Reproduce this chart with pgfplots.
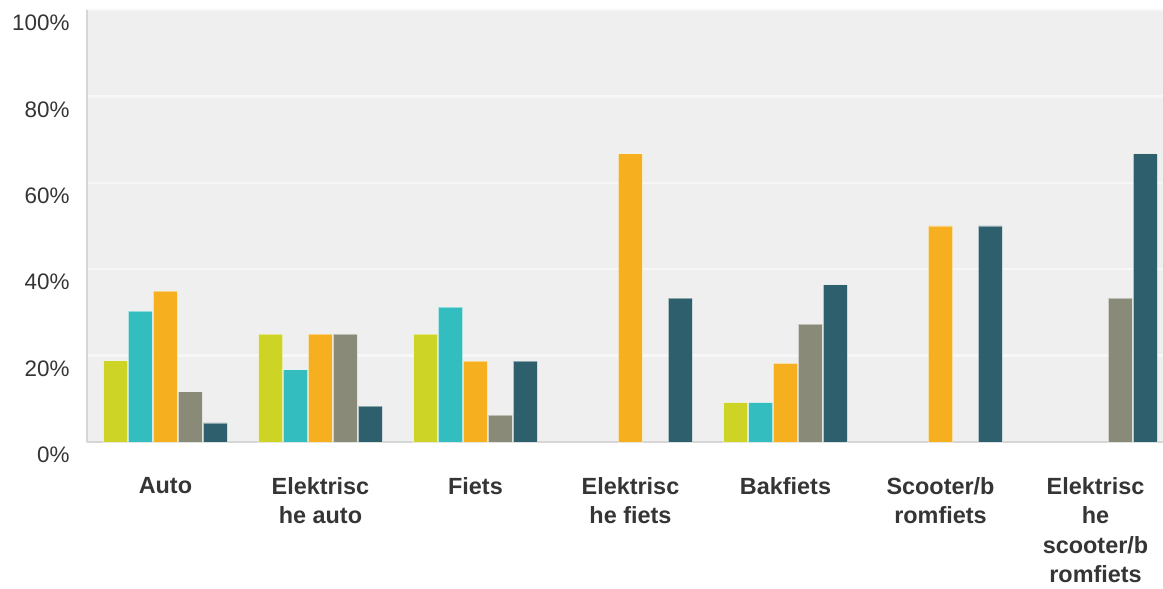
\documentclass[border=0pt]{standalone}
\usepackage{pgfplots}
\pgfplotsset{compat=1.18}
\usepackage{fontspec}
\setmainfont{Liberation Sans}
\definecolor{cA}{HTML}{CDD426}
\definecolor{cB}{HTML}{33BDBF}
\definecolor{cC}{HTML}{F5AF1F}
\definecolor{cD}{HTML}{898A78}
\definecolor{cE}{HTML}{2D5F6D}
\definecolor{bg}{HTML}{EFEFEF}
\definecolor{txt}{HTML}{353535}
\definecolor{axl}{HTML}{D6D6D6}
\begin{document}
\begin{tikzpicture}
\path[use as bounding box] (-87bp,-147bp) rectangle (1076bp,442bp);
\begin{axis}[
  at={(0,0)}, anchor=south west,
  scale only axis, width=1076bp, height=432bp,
  xmin=-0.506, xmax=6.435, ymin=0, ymax=100,
  axis background/.style={fill=bg},
  axis x line*=bottom, axis y line*=left,
  axis line style={draw=axl, line width=2.2bp, -},
  ymajorgrids, grid style={draw=white!50!bg, line width=2.5bp},
  major tick length=0pt,
  ytick={0,20,40,60,80,100},
  yticklabels={0\%,20\%,40\%,60\%,80\%,100\%},
  yticklabel style={font=\fontsize{22.5}{27}\selectfont, text=txt, xshift=-14bp, yshift=-13bp},
  xtick={0,1,2,3,4,5,6},
  xticklabels={Auto,{Elektrisc\\he auto},Fiets,{Elektrisc\\he fiets},Bakfiets,{Scooter/b\\romfiets},{Elektrisc\\he\\scooter/b\\romfiets}},
  xticklabel style={font=\fontsize{23.5}{29.5}\selectfont\bfseries, text=txt, align=center, yshift=-32bp},
  ybar, bar width=0.155,
  every axis plot/.append style={draw=white, draw opacity=0.45, line width=0.8bp},
  clip=true,
]
\addplot[fill=cA, bar shift=-0.322] coordinates {(0,18.8) (1,25) (2,25) (4,9.1)};
\addplot[fill=cB, bar shift=-0.161] coordinates {(0,30.3) (1,16.7) (2,31.25) (4,9.1)};
\addplot[fill=cC, bar shift=0] coordinates {(0,34.9) (1,25) (2,18.75) (3,66.7) (4,18.2) (5,50)};
\addplot[fill=cD, bar shift=0.161] coordinates {(0,11.6) (1,25) (2,6.25) (4,27.3) (6,33.3)};
\addplot[fill=cE, bar shift=0.322] coordinates {(0,4.4) (1,8.3) (2,18.75) (3,33.3) (4,36.4) (5,50) (6,66.7)};
\end{axis}
\end{tikzpicture}
\end{document}
